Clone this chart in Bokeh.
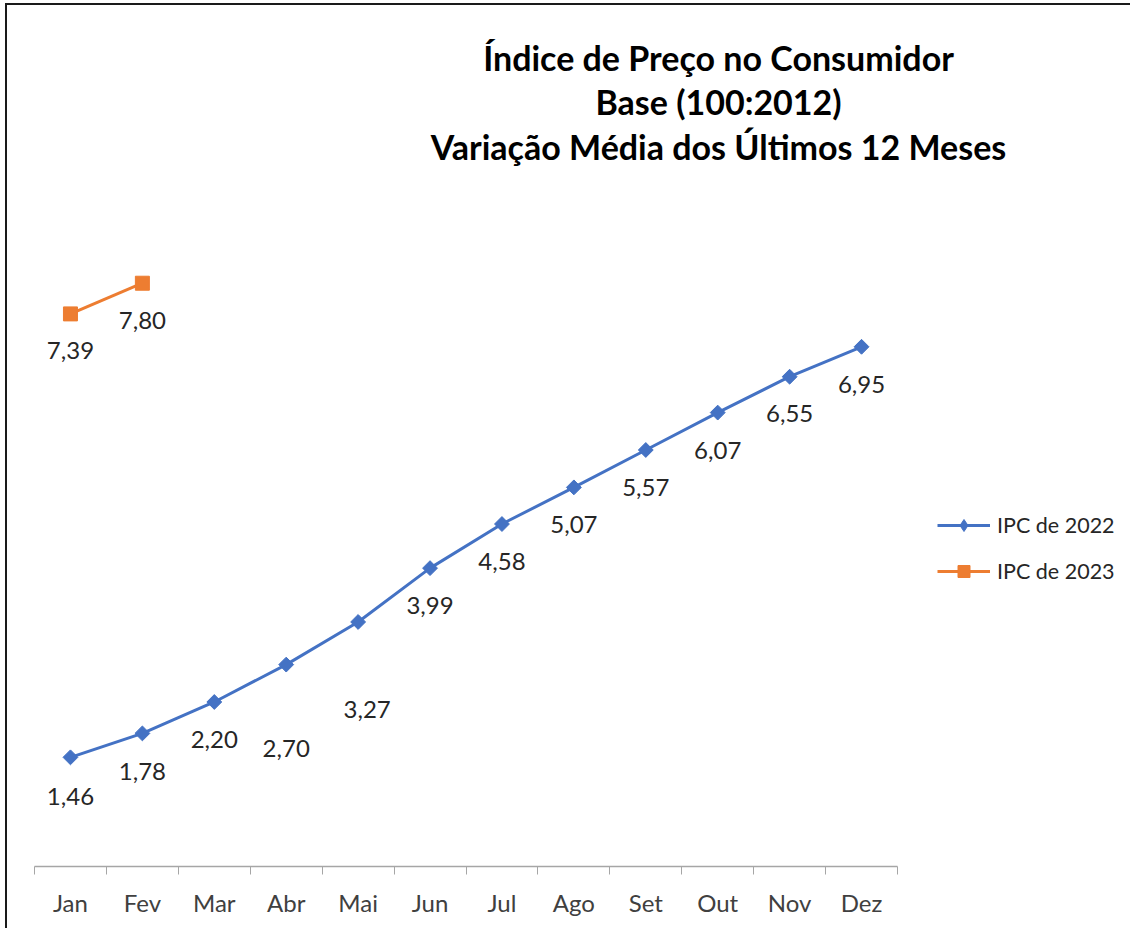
import math
from bokeh.plotting import figure
from bokeh.models import FixedTicker, Label, Legend, LegendItem, ColumnDataSource, Range1d
from bokeh.core.properties import value
from bokeh.embed import file_html
from bokeh.resources import INLINE

months = ["Jan", "Fev", "Mar", "Abr", "Mai", "Jun", "Jul", "Ago", "Set", "Out", "Nov", "Dez"]
ipc_2022 = [1.46, 1.78, 2.20, 2.70, 3.27, 3.99, 4.58, 5.07, 5.57, 6.07, 6.55, 6.95]
ipc_2023 = [7.39, 7.80]
title_lines = ["Índice de Preço no Consumidor", "Base (100:2012)", "Variação Média dos Últimos 12 Meses"]
series_names = ["IPC de 2022", "IPC de 2023"]

# label placement (styling): pixel offsets of the data labels
off_x_2022 = [0, 0, 0, 0, 9, 0, 0, 0, 0, 0, 0, 0]
off_y_2022 = [39, 38, 38, 84, 88, 37, 37, 37, 38, 38, 37, 38]
off_x_2023 = [0, 0]
off_y_2023 = [37, 37]

FONT = "Lato"
BLUE = "#4472C4"
ORANGE = "#ED7D31"

# layout (pixels, canvas coordinates)
W, H = 1125, 925
AXIS_H = 64             # bottom panel for the category axis
AREA_LEFT, AREA_RIGHT = 27, 890   # plot-area extent of the categories
AREA_TOP = 188          # plot-area top (y = 9)
Y_MAX_AREA = 9
n = len(months)
frame_h = H - AXIS_H
px_per_cat = (AREA_RIGHT - AREA_LEFT) / n
px_per_unit = (frame_h - AREA_TOP) / Y_MAX_AREA
x0 = -0.5 - AREA_LEFT / px_per_cat
x1 = x0 + W / px_per_cat
y1 = frame_h / px_per_unit

p = figure(width=W, height=H, output_backend="svg", toolbar_location=None,
           x_range=Range1d(x0, x1), y_range=Range1d(0, y1),
           min_border_left=0, min_border_right=0, min_border_top=0, min_border_bottom=AXIS_H)
p.styles = {"border-left": "2px solid #1a1a1a", "border-top": "2px solid #1a1a1a",
            "margin-left": "5px", "margin-top": "3px"}
p.outline_line_color = None
p.xgrid.visible = False
p.ygrid.visible = False
p.yaxis.visible = False

xs22 = list(range(len(ipc_2022)))
xs23 = list(range(len(ipc_2023)))

src22 = ColumnDataSource(dict(x=xs22, y=ipc_2022,
                              t=[f"{v:.2f}".replace(".", ",") for v in ipc_2022],
                              ox=off_x_2022, oy=off_y_2022))
src23 = ColumnDataSource(dict(x=xs23, y=ipc_2023,
                              t=[f"{v:.2f}".replace(".", ",") for v in ipc_2023],
                              ox=off_x_2023, oy=off_y_2023))

l1 = p.line("x", "y", source=src22, line_color=BLUE, line_width=3)
# diamond glyph used as the legend key (covered by the equal-sided diamonds drawn on top)
m1_key = p.scatter("x", "y", source=src22, marker="diamond", size=10, fill_color=BLUE, line_color=BLUE)
m1 = p.scatter("x", "y", source=src22, marker="square", angle=math.pi / 4, size=10.5,
               fill_color=BLUE, line_color=BLUE)
l2 = p.line("x", "y", source=src23, line_color=ORANGE, line_width=3)
m2 = p.scatter("x", "y", source=src23, marker="square", size=14, fill_color=ORANGE, line_color=ORANGE)

for src in (src22, src23):
    p.text("x", "y", text="t", source=src, x_offset="ox", y_offset="oy",
           text_align="center", text_baseline="middle", text_font=value(FONT),
           text_font_size="24px", text_color="#262626")

ax = p.xaxis[0]
ax.ticker = FixedTicker(ticks=xs22, minor_ticks=[i - 0.5 for i in range(n + 1)])
ax.bounds = (-0.5, n - 0.5)
ax.major_label_overrides = {i: m for i, m in enumerate(months)}
ax.major_tick_line_color = None
ax.minor_tick_line_color = "#a6a6a6"
ax.minor_tick_out = 8
ax.minor_tick_in = 0
ax.axis_line_color = "#a6a6a6"
ax.axis_line_width = 1.5
ax.major_label_text_font = FONT
ax.major_label_text_font_size = "24px"
ax.major_label_text_color = "#404040"
ax.major_label_standoff = 13

legend = Legend(items=[LegendItem(label=series_names[0], renderers=[l1, m1_key]),
                       LegendItem(label=series_names[1], renderers=[l2, m2])],
                location=(930, 280), padding=0, margin=0, spacing=16,
                glyph_width=53, glyph_height=30, label_height=30, label_standoff=7,
                label_text_font=FONT, label_text_font_size="21.5px", label_text_color="#262626",
                border_line_color=None, background_fill_alpha=0)
p.add_layout(legend, "center")

title_y = [frame_h - 52, frame_h - 96, frame_h - 141]
for txt, ty in zip(title_lines, title_y):
    p.add_layout(Label(x=711, y=ty, x_units="screen", y_units="screen", text=txt,
                       text_align="center", text_baseline="middle", text_font=FONT,
                       text_font_style="bold", text_font_size="34px", text_color="#000000"))

open("out.html", "w").write(file_html(p, INLINE))
